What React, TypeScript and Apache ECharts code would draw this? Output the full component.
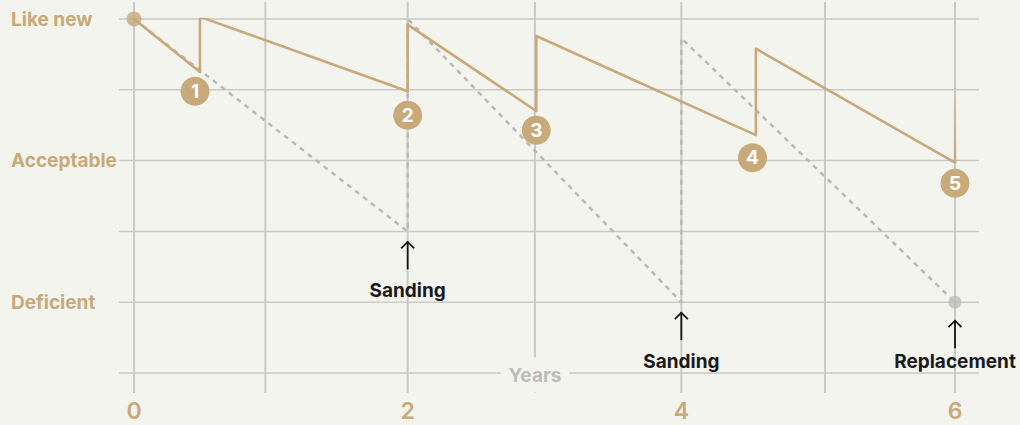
import React, { useEffect, useRef } from "react";
import * as echarts from "echarts";

// ---- data ----
const levelLabels: Record<number, string> = { 5: "Like new", 3: "Acceptable", 1: "Deficient" };
const hLevels = [0, 1, 2, 3, 4, 5];
const vGridYears = [0, 0.96, 2, 2.93, 4, 5.05, 6];
const xTickValues = [0, 2, 4, 6];

// condition with maintenance (tan line)
const maintained: [number, number][] = [
  [0, 5], [0.482, 4.25], [0.482, 5.03], [2.0, 3.98], [2.0, 4.92],
  [2.94, 3.7], [2.94, 4.76], [4.545, 3.36], [4.545, 4.58], [6.0, 2.97],
];
const fadeSegment: [number, number][] = [[6.0, 2.97], [6.0, 4.1]];

// condition without maintenance (dashed)
const unmaintained: [number, number][] = [
  [0, 5], [2, 2], [2, 5], [4, 1], [4, 4.73], [6, 1],
];

const badges: { x: number; y: number; n: string }[] = [
  { x: 0.446, y: 3.98, n: "1" },
  { x: 2.0, y: 3.64, n: "2" },
  { x: 2.94, y: 3.43, n: "3" },
  { x: 4.52, y: 3.04, n: "4" },
  { x: 6.0, y: 2.68, n: "5" },
];

const annotations: { x: number; y: number; label: string; dot: boolean }[] = [
  { x: 2, y: 2, label: "Sanding", dot: false },
  { x: 4, y: 1, label: "Sanding", dot: false },
  { x: 6, y: 1, label: "Replacement", dot: true },
];

const startPoint: [number, number][] = [[0, 5]];
const endPoint: [number, number][] = [[6, 1]];
const yearsLabelAt: [number, number][] = [[2.93, 0]];

// ---- styles ----
const BG = "#f4f4ef";
const TAN = "#c8a97a";
const GRID = "#c9c9c7";
const DASH = "#b9b9b9";
const FONT = "Inter, 'Noto Sans', sans-serif";

export default function App() {
  const ref = useRef<HTMLDivElement>(null);
  useEffect(() => {
    document.body.style.margin = "0";
    const chart = echarts.init(ref.current!, null, { renderer: "svg" });
    const option: any = {
      animation: false,
      backgroundColor: BG,
      grid: { left: 134, right: 65, top: 19, bottom: 52 },
      xAxis: {
        type: "value",
        min: 0,
        max: 6,
        interval: 2,
        axisLine: { show: false },
        axisTick: { show: false },
        splitLine: { show: false },
        axisLabel: {
          margin: 26,
          color: TAN,
          fontSize: 23,
          fontWeight: 600,
          fontFamily: FONT,
          formatter: (v: number) => (xTickValues.includes(v) ? String(v) : ""),
        },
      },
      yAxis: {
        type: "value",
        min: 0,
        max: 5,
        interval: 1,
        axisLine: { show: false },
        axisTick: { show: false },
        splitLine: { show: false },
        axisLabel: {
          align: "left",
          margin: 123,
          color: TAN,
          fontSize: 19,
          fontWeight: 700,
          fontFamily: FONT,
          formatter: (v: number) => levelLabels[v] || "",
        },
      },
      series: [
        {
          type: "custom",
          z: 1,
          silent: true,
          data: vGridYears.map((v) => [v, 0]),
          renderItem: (params: any, api: any) => {
            const x = api.coord([api.value(0), 0])[0];
            const top = api.coord([0, 5])[1] - 17;
            const bottom = api.coord([0, 0])[1] + 20;
            return {
              type: "line",
              shape: { x1: x, y1: top, x2: x, y2: bottom },
              style: { stroke: GRID, lineWidth: 2 },
            };
          },
        },
        {
          type: "custom",
          z: 1,
          silent: true,
          data: hLevels.map((v) => [0, v]),
          renderItem: (params: any, api: any) => {
            const y = api.coord([0, api.value(1)])[1];
            const x1 = api.coord([0, 0])[0] - 15;
            const x2 = api.coord([6, 0])[0] + 24;
            return {
              type: "line",
              shape: { x1, y1: y, x2, y2: y },
              style: { stroke: GRID, lineWidth: 1.5 },
            };
          },
        },
        {
          type: "custom",
          z: 2,
          silent: true,
          data: yearsLabelAt,
          renderItem: (params: any, api: any) => {
            const p = api.coord([api.value(0), api.value(1)]);
            return {
              type: "text",
              x: p[0],
              y: p[1] + 2,
              style: {
                text: "Years",
                align: "center",
                verticalAlign: "middle",
                fill: "#bcbcbc",
                font: `700 19px ${FONT}`,
                backgroundColor: BG,
                padding: [8, 8],
              },
            };
          },
        },
        {
          type: "line",
          z: 3,
          data: unmaintained,
          symbol: "none",
          lineStyle: { color: DASH, width: 2.5, type: [5, 5] },
        },
        {
          type: "line",
          z: 4,
          data: maintained,
          symbol: "none",
          lineStyle: { color: TAN, width: 2.6, join: "round", cap: "round" },
        },
        {
          type: "custom",
          z: 4,
          silent: true,
          data: [fadeSegment[0].concat(fadeSegment[1][1])],
          renderItem: (params: any, api: any) => {
            const p1 = api.coord([api.value(0), api.value(1)]);
            const p2 = api.coord([api.value(0), api.value(2)]);
            return {
              type: "line",
              shape: { x1: p1[0], y1: p1[1], x2: p2[0], y2: p2[1] },
              style: {
                lineWidth: 2.5,
                stroke: new echarts.graphic.LinearGradient(
                  p2[0], p2[1], p1[0], p1[1],
                  [
                    { offset: 0, color: "rgba(200,169,122,0)" },
                    { offset: 1, color: TAN },
                  ],
                  true
                ),
              },
            };
          },
        },
        {
          type: "scatter",
          z: 5,
          data: startPoint,
          symbolSize: 15,
          itemStyle: { color: TAN },
        },
        {
          type: "scatter",
          z: 5,
          data: endPoint,
          symbolSize: 13,
          itemStyle: { color: "#bdbdbd" },
        },
        {
          type: "scatter",
          z: 6,
          data: badges.map((b) => ({ value: [b.x, b.y], name: b.n })),
          symbolSize: 29,
          itemStyle: { color: TAN, opacity: 1 },
          label: {
            show: true,
            position: "inside",
            formatter: (p: any) => p.name,
            color: "#ffffff",
            fontSize: 19,
            fontWeight: 700,
            fontFamily: FONT,
          },
        },
        {
          type: "custom",
          z: 7,
          silent: true,
          data: annotations.map((a) => [a.x, a.y, a.dot ? 1 : 0]),
          renderItem: (params: any, api: any) => {
            const p = api.coord([api.value(0), api.value(1)]);
            const a = annotations[params.dataIndex];
            const x = p[0];
            const top = p[1] + (api.value(2) ? 18 : 10);
            const len = 28;
            return {
              type: "group",
              children: [
                {
                  type: "line",
                  shape: { x1: x, y1: top, x2: x, y2: top + len },
                  style: { stroke: "#151515", lineWidth: 1.8 },
                },
                {
                  type: "polyline",
                  shape: { points: [[x - 6.5, top + 7], [x, top + 0.5], [x + 6.5, top + 7]] },
                  style: { stroke: "#151515", lineWidth: 1.8, fill: "none" },
                },
                {
                  type: "text",
                  x,
                  y: p[1] + 59,
                  style: {
                    text: a.label,
                    align: "center",
                    verticalAlign: "middle",
                    fill: "#1a1a1a",
                    font: `700 19px ${FONT}`,
                  },
                },
              ],
            };
          },
        },
      ],
    };
    chart.setOption(option);
    return () => chart.dispose();
  }, []);
  return (
    <div
      ref={ref}
      style={{ position: "fixed", left: 0, top: 0, width: 1020, height: 425 }}
    />
  );
}
